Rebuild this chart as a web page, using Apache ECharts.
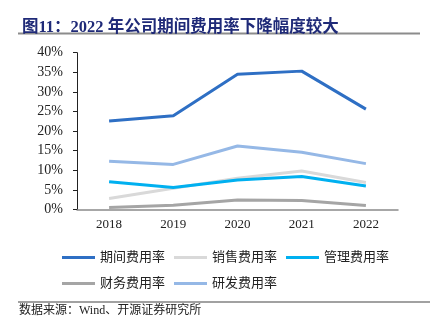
<!DOCTYPE html>
<html><head><meta charset="utf-8">
<script src="https://cdn.jsdelivr.net/npm/echarts@6/dist/echarts.min.js"></script>
<style>html,body{margin:0;padding:0;background:#fff}#c{width:435px;height:332px}</style>
</head><body><div id="c"></div>
<script>
const categories = ['2018', '2019', '2020', '2021', '2022'];
const periodRate = [22.6, 23.9, 34.5, 35.3, 25.6];
const salesRate = [2.8, 5.4, 8.0, 9.8, 6.9];
const adminRate = [7.1, 5.6, 7.5, 8.4, 6.0];
const financeRate = [0.5, 1.1, 2.4, 2.3, 1.0];
const rdRate = [12.3, 11.5, 16.2, 14.6, 11.7];
const yTicks = [0, 5, 10, 15, 20, 25, 30, 35, 40];

const seriesDefs = [
  {name: '期间费用率', data: periodRate, color: '#2E6FC4'},
  {name: '销售费用率', data: salesRate, color: '#D9D9D9'},
  {name: '管理费用率', data: adminRate, color: '#00B0F0'},
  {name: '财务费用率', data: financeRate, color: '#A5A5A5'},
  {name: '研发费用率', data: rdRate, color: '#95B8E6'}
];
const serif = '"Liberation Serif", "Noto Sans CJK SC", serif';
const chart = echarts.init(document.getElementById('c'), null, {renderer: 'canvas'});
const legendBase = {
  itemWidth: 33, itemHeight: 3, itemGap: 9,
  textStyle: {fontFamily: serif, fontSize: 13, color: '#222'},
  icon: 'rect', selectedMode: false
};
chart.setOption({
  animation: false,
  title: {
    text: '图11：2022 年公司期间费用率下降幅度较大',
    left: 17, top: 14,
    textStyle: {fontFamily: serif, fontSize: 16.5, fontWeight: 'bold', color: '#1F2A78'}
  },
  graphic: [
    {type: 'rect', shape: {x: 18, y: 32.5, width: 402, height: 2}, style: {fill: '#8C8C8C'}},
    {type: 'rect', shape: {x: 18, y: 301.5, width: 412, height: 1}, style: {fill: '#444'}},
    {type: 'text', left: 19, top: 305, style: {text: '数据来源：Wind、开源证券研究所', fontFamily: serif, fontSize: 12, fill: '#222'}}
  ],
  legend: [
    Object.assign({left: 57, top: 246, data: seriesDefs.slice(0, 3).map(s => s.name)}, legendBase),
    Object.assign({left: 57, top: 272, data: seriesDefs.slice(3).map(s => s.name)}, legendBase)
  ],
  grid: {left: 77, right: 37, top: 52.7, bottom: 122.5, containLabel: false},
  xAxis: {
    type: 'category', data: categories, boundaryGap: true,
    axisLine: {lineStyle: {color: '#8A8A8A', width: 1.5}},
    axisTick: {inside: true, length: 4, lineStyle: {color: '#8A8A8A'}},
    axisLabel: {fontFamily: serif, fontSize: 13, color: '#222', margin: 9}
  },
  yAxis: {
    type: 'value', min: 0, max: 40, interval: 5,
    axisLine: {show: true, lineStyle: {color: '#222', width: 1}},
    axisTick: {show: true, length: 4, lineStyle: {color: '#222'}},
    splitLine: {show: false},
    axisLabel: {fontFamily: serif, fontSize: 14, color: '#222', margin: 14,
      formatter: v => yTicks.includes(v) ? v + '%' : ''}
  },
  series: seriesDefs.map(s => ({
    name: s.name, type: 'line', data: s.data, showSymbol: false, symbol: 'none',
    lineStyle: {color: s.color, width: 3}, itemStyle: {color: s.color}
  }))
});
</script></body></html>
